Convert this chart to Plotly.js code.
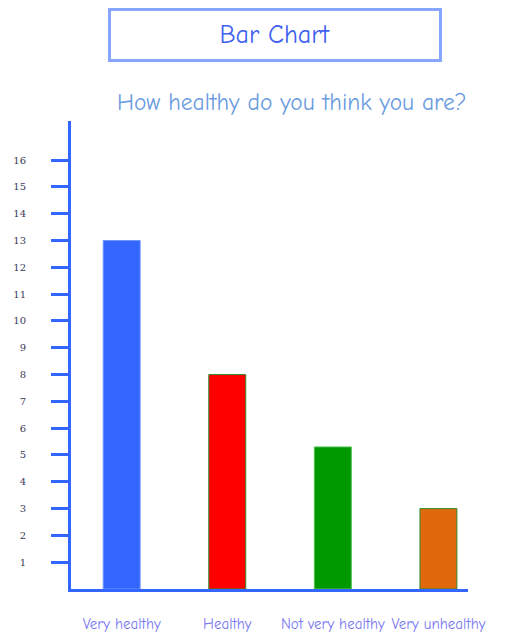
<!DOCTYPE html>
<html>
<head>
<meta charset="utf-8">
<script src="https://cdn.plot.ly/plotly-3.0.1.min.js"></script>
<style>
  html, body { margin: 0; padding: 0; background: #ffffff; }
  #chart { width: 510px; height: 632px; }
</style>
</head>
<body>
<div id="chart"></div>
<script>
// Survey answers: how healthy people think they are
const categories = ["Very healthy", "Healthy", "Not very healthy", "Very unhealthy"];
const counts = [13, 8, 5.3, 3];
const barColors = ["#3366ff", "#ff0000", "#009900", "#e0690e"];
const barOutlines = ["#6f95ff", "#2e8b2e", "#55c055", "#2e8b2e"];
const yTickValues = [1, 2, 3, 4, 5, 6, 7, 8, 9, 10, 11, 12, 13, 14, 15, 16];

const chartTitle = "Bar Chart";
const question = "How healthy do you think you are?";

const FONT = '"Comic Sans MS", "Comic Neue", Lato, "Noto Sans", sans-serif';
const AXIS_BLUE = "#3366ff";

const trace = {
  type: "bar",
  x: categories,
  y: counts,
  width: 0.35,
  marker: {
    color: barColors,
    line: { color: barOutlines, width: 1 }
  },
  hoverinfo: "x+y"
};

const layout = {
  width: 510,
  height: 632,
  margin: { l: 71, r: 42, t: 121, b: 43 },
  paper_bgcolor: "#ffffff",
  plot_bgcolor: "#ffffff",
  showlegend: false,
  font: { family: FONT },
  xaxis: {
    type: "category",
    range: [-0.48, 3.28],
    showgrid: false,
    zeroline: false,
    showline: true,
    linecolor: AXIS_BLUE,
    linewidth: 3,
    ticks: "",
    tickangle: 0,
    ticklabelstandoff: 19,
    tickfont: { family: FONT, size: 15, color: "#7777f0" },
    fixedrange: true
  },
  yaxis: {
    range: [0, 17.46],
    tickvals: yTickValues,
    ticktext: yTickValues.map(String),
    showgrid: false,
    zeroline: false,
    showline: true,
    linecolor: AXIS_BLUE,
    linewidth: 3,
    ticks: "outside",
    ticklen: 17,
    tickwidth: 3,
    tickcolor: AXIS_BLUE,
    ticklabelstandoff: 23,
    tickfont: { family: "DejaVu Serif, serif", size: 10, color: "#3a3a55" },
    fixedrange: true
  },
  annotations: [
    {
      text: chartTitle,
      xref: "paper", yref: "paper",
      x: 0.5126, y: 1.1838,
      xanchor: "center", yanchor: "middle",
      showarrow: false,
      width: 328,
      height: 48,
      borderpad: 0,
      bordercolor: "#88a6ff",
      borderwidth: 3,
      bgcolor: "#ffffff",
      font: { family: FONT, size: 26, color: "#3f5ff0" }
    },
    {
      text: question,
      xref: "paper", yref: "paper",
      x: 0.5567, y: 1.0385,
      xanchor: "center", yanchor: "middle",
      showarrow: false,
      font: { family: FONT, size: 23.5, color: "#6b9be0" }
    }
  ]
};

Plotly.newPlot("chart", [trace], layout, { displayModeBar: false, staticPlot: true });
</script>
</body>
</html>
